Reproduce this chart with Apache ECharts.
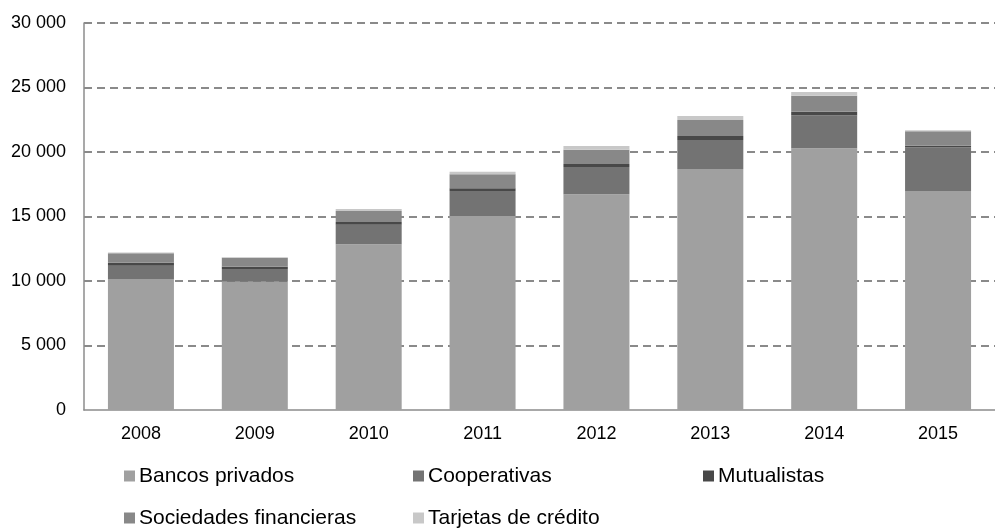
<!DOCTYPE html>
<html>
<head>
<meta charset="utf-8">
<script src="https://cdn.jsdelivr.net/npm/echarts@6/dist/echarts.min.js"></script>
<style>
  html, body { margin: 0; padding: 0; background: #fff; }
  #chart { width: 995px; height: 529px; }
</style>
</head>
<body>
<div id="chart"></div>
<script>
// Cartera por tipo de entidad, 2008-2015
const years = ['2008', '2009', '2010', '2011', '2012', '2013', '2014', '2015'];
const bancosPrivados = [10150, 9950, 12850, 15040, 16720, 18680, 20290, 16980];
const cooperativas = [1040, 980, 1520, 1940, 2120, 2250, 2550, 3380];
const mutualistas = [230, 180, 210, 210, 230, 310, 280, 130];
const sociedadesFinancieras = [730, 700, 850, 1080, 1110, 1240, 1240, 1110];
const tarjetasCredito = [50, 30, 150, 200, 290, 310, 290, 80];

const seriesNames = ['Bancos privados', 'Cooperativas', 'Mutualistas', 'Sociedades financieras', 'Tarjetas de crédito'];
const seriesData = [bancosPrivados, cooperativas, mutualistas, sociedadesFinancieras, tarjetasCredito];
const seriesColors = ['#a0a0a0', '#737373', '#484848', '#888888', '#c8c8c8'];

const fontFamily = '"Liberation Sans", Arial, sans-serif';

// one legend block per item so the columns line up in a fixed grid
const legendSlots = [
  { left: 124, top: 465 },
  { left: 413, top: 465 },
  { left: 703, top: 465 },
  { left: 124, top: 507 },
  { left: 413, top: 507 }
];

const chart = echarts.init(document.getElementById('chart'), null, { renderer: 'canvas' });

chart.setOption({
  backgroundColor: '#ffffff',
  animation: false,
  textStyle: { fontFamily: fontFamily },
  grid: { left: 84, right: -10, top: 23, bottom: 119, containLabel: false },
  legend: seriesNames.map((name, i) => ({
    data: [name],
    left: legendSlots[i].left,
    top: legendSlots[i].top,
    padding: 0,
    itemWidth: 11,
    itemHeight: 11,
    itemGap: 0,
    icon: 'rect',
    selectedMode: false,
    itemStyle: { borderWidth: 0 },
    textStyle: { fontFamily: fontFamily, fontSize: 21, color: '#000', padding: [0, 0, 0, -1], lineHeight: 22 }
  })),
  xAxis: {
    type: 'category',
    data: years,
    axisLine: { show: true, lineStyle: { color: '#8c8c8c', width: 1.5 } },
    axisTick: { show: false },
    axisLabel: { fontSize: 18, color: '#000', margin: 15, fontFamily: fontFamily }
  },
  yAxis: {
    type: 'value',
    min: 0,
    max: 30000,
    interval: 5000,
    axisLine: { show: true, lineStyle: { color: '#8c8c8c', width: 1.5 } },
    axisTick: { show: false },
    axisLabel: {
      fontSize: 18,
      color: '#000',
      margin: 18,
      fontFamily: fontFamily,
      formatter: v => String(v).replace(/\B(?=(\d{3})+(?!\d))/g, ' ')
    },
    splitLine: { show: true, showMinLine: false, lineStyle: { color: '#8a8a8a', width: 2, type: [8, 5] } }
  },
  series: seriesNames.map((name, i) => ({
    name: name,
    type: 'bar',
    stack: 'total',
    data: seriesData[i],
    barWidth: 66,
    itemStyle: { color: seriesColors[i] },
    emphasis: { disabled: true }
  }))
});
</script>
</body>
</html>
